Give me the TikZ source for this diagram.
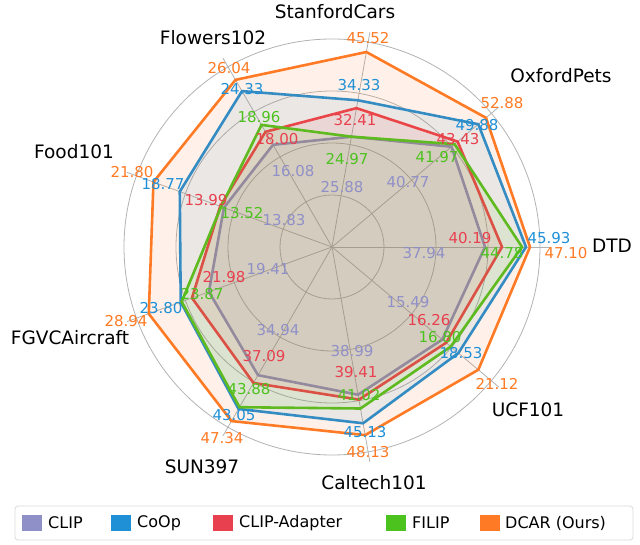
\documentclass[tikz,border=0pt]{standalone}
\usepackage{fontspec}
\setmainfont{DejaVu Sans}
\definecolor{cclip}{HTML}{9090C8}
\definecolor{ccoop}{HTML}{1F8FD6}
\definecolor{cada}{HTML}{E8404E}
\definecolor{cfilip}{HTML}{4CC21E}
\definecolor{cdcar}{HTML}{FF7A24}
\tikzset{
  poly/.style={line width=2.6pt, line join=miter, fill=#1, fill opacity=0.1, draw=#1},
  val/.style={font=\fontsize{15}{15}\selectfont, text=#1, inner sep=0pt},
  cat/.style={font=\fontsize{18.5}{18.5}\selectfont, inner sep=0pt},
  grid/.style={draw=gray!60, line width=0.8pt},
  sw/.style={fill=#1, minimum width=20pt, minimum height=16pt, inner sep=0pt},
  leg/.style={font=\fontsize{16}{16}\selectfont, anchor=west, inner sep=0pt}
}
\begin{document}
\begin{tikzpicture}[x=1pt,y=1pt]
\useasboundingbox (0,0) rectangle (640,-545);
\begin{scope}[shift={(332,-247)}]
\coordinate (c) at (0,0);
\foreach \r in {52,104,156,208} \draw[grid] (c) circle (\r);
\foreach \a in {0,40,...,320} \draw[grid] (c) -- (\a:218);
\draw[poly=cclip] (0:153)--(40:156)--(80:112)--(120:118)--(160:115)--(200:131)--(240:148)--(280:150)--(320:144)--cycle;
\draw[poly=ccoop] (0:194)--(40:191)--(80:149)--(120:180)--(160:162)--(200:161)--(240:187)--(280:179)--(320:165)--cycle;
\draw[poly=cada] (0:170)--(40:164)--(80:141)--(120:133)--(160:119)--(200:149)--(240:157)--(280:155)--(320:149)--cycle;
\draw[poly=cfilip] (0:190)--(40:160)--(80:112)--(120:141)--(160:118)--(200:160)--(240:185)--(280:164)--(320:155)--cycle;
\draw[poly=cdcar] (0:198)--(40:201)--(80:198)--(120:193)--(160:190)--(200:195)--(240:201)--(280:191)--(320:191)--cycle;
\end{scope}
% category labels
\node[cat] (l1) at (335,-12) {StanfordCars};
\node[cat] (l2) at (561,-76) {OxfordPets};
\node[cat] (l3) at (612,-246) {DTD};
\node[cat] (l4) at (528,-410) {UCF101};
\node[cat] (l5) at (374,-483) {Caltech101};
\node[cat] (l6) at (202,-467) {SUN397};
\node[cat] (l7) at (70,-338) {FGVCAircraft};
\node[cat] (l8) at (74,-152) {Food101};
\node[cat] (l9) at (213,-38) {Flowers102};
% values StanfordCars
\node[val=cdcar] (v1) at (368,-38) {45.52};
\node[val=ccoop] (v2) at (359,-85) {34.33};
\node[val=cada] (v3) at (355,-120) {32.41};
\node[val=cfilip] (v4) at (347,-159) {24.97};
\node[val=cclip] (v5) at (342,-187) {25.88};
% OxfordPets
\node[val=cdcar] (v6) at (502,-103) {52.88};
\node[val=ccoop] (v7) at (477,-125) {49.88};
\node[val=cada] (v8) at (458,-139) {43.43};
\node[val=cfilip] (v9) at (437,-157) {41.97};
\node[val=cclip] (v10) at (408,-182) {40.77};
% DTD
\node[val=ccoop] (v11) at (549,-238) {45.93};
\node[val=cdcar] (v12) at (566,-253) {47.10};
\node[val=cfilip] (v13) at (502,-253) {44.78};
\node[val=cada] (v14) at (470,-238) {40.19};
\node[val=cclip] (v15) at (424,-253) {37.94};
% UCF101
\node[val=cdcar] (v16) at (497,-384) {21.12};
\node[val=ccoop] (v17) at (461,-353) {18.53};
\node[val=cfilip] (v18) at (440,-337) {16.80};
\node[val=cada] (v19) at (429,-320) {16.26};
\node[val=cclip] (v20) at (408,-302) {15.49};
% Caltech101
\node[val=cdcar] (v21) at (368,-452) {48.13};
\node[val=ccoop] (v22) at (365,-432) {45.13};
\node[val=cfilip] (v23) at (359,-395) {41.02};
\node[val=cada] (v24) at (356,-372) {39.41};
\node[val=cclip] (v25) at (352,-351) {38.99};
% SUN397
\node[val=cdcar] (v26) at (222,-438) {47.34};
\node[val=ccoop] (v27) at (234,-415) {43.05};
\node[val=cfilip] (v28) at (249,-389) {43.88};
\node[val=cada] (v29) at (264,-356) {37.09};
\node[val=cclip] (v30) at (278,-330) {34.94};
% FGVCAircraft
\node[val=cdcar] (v31) at (126,-321) {28.94};
\node[val=ccoop] (v32) at (161,-308) {23.80};
\node[val=cfilip] (v33) at (202,-294) {23.87};
\node[val=cada] (v34) at (224,-277) {21.98};
\node[val=cclip] (v35) at (268,-269) {19.41};
% Food101
\node[val=cdcar] (v36) at (132,-172) {21.80};
\node[val=ccoop] (v37) at (163,-184) {18.77};
\node[val=cada] (v38) at (206,-200) {13.99};
\node[val=cfilip] (v39) at (242,-213) {13.52};
\node[val=cclip] (v40) at (284,-220) {13.83};
% Flowers102
\node[val=cdcar] (v41) at (229,-68) {26.04};
\node[val=ccoop] (v42) at (242,-89) {24.33};
\node[val=cfilip] (v43) at (259,-117) {18.96};
\node[val=cada] (v44) at (277,-139) {18.00};
\node[val=cclip] (v45) at (293,-171) {16.08};
% legend
\draw[draw=gray!30, line width=0.8pt, rounded corners=3pt] (15,-506) rectangle (633,-540);
\node[sw=cclip] (s1) at (32,-523) {};
\node[leg] (t1) at (48,-523) {CLIP};
\node[sw=ccoop] (s2) at (121,-523) {};
\node[leg] (t2) at (137,-523) {CoOp};
\node[sw=cada] (s3) at (223,-523) {};
\node[leg] (t3) at (239,-523) {CLIP-Adapter};
\node[sw=cfilip] (s4) at (396,-523) {};
\node[leg] (t4) at (412,-523) {FILIP};
\node[sw=cdcar] (s5) at (490,-523) {};
\node[leg] (t5) at (505,-523) {DCAR (Ours)};
\end{tikzpicture}
\end{document}
